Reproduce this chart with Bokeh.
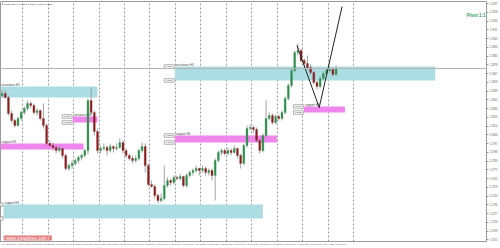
from bokeh.plotting import figure
from bokeh.models import (ColumnDataSource, FixedTicker, Span, Label, Range1d,
                          PrintfTickFormatter)
from bokeh.embed import file_html
from bokeh.resources import INLINE
from bokeh.core.properties import value

# ---------------- data ----------------
symbol_header = "EURUSD,H1  1.1866 1.1875 1.1865 1.1872"

opens = [1.1845,1.1847,1.1843,1.1827,1.1820,1.1815,1.1822,1.1828,1.1832,1.1837,
 1.1835,1.1828,1.1830,1.1822,1.1815,1.1797,1.1795,1.1793,1.1790,1.1792,
 1.1785,1.1772,1.1775,1.1777,1.1780,1.1783,1.1785,1.1790,1.1840,1.1828,
 1.1809,1.1790,1.1792,1.1793,1.1790,1.1794,1.1792,1.1793,1.1798,1.1790,
 1.1785,1.1782,1.1780,1.1782,1.1790,1.1794,1.1775,1.1756,1.1754,1.1745,
 1.1740,1.1742,1.1755,1.1760,1.1758,1.1763,1.1762,1.1764,1.1755,1.1765,
 1.1768,1.1770,1.1772,1.1770,1.1772,1.1768,1.1770,1.1765,1.1780,1.1788,
 1.1790,1.1787,1.1790,1.1788,1.1792,1.1785,1.1777,1.1795,1.1812,1.1813,
 1.1811,1.1800,1.1790,1.1805,1.1822,1.1825,1.1818,1.1824,1.1822,1.1828,
 1.1842,1.1855,1.1870,1.1888,1.1890,1.1880,1.1877,1.1873,1.1868,1.1858,
 1.1854,1.1862,1.1867,1.1870,1.1871,1.1866]
highs = [1.1850,1.1850,1.1845,1.1830,1.1822,1.1824,1.1830,1.1834,1.1840,1.1839,
 1.1837,1.1832,1.1831,1.1837,1.1817,1.1800,1.1798,1.1795,1.1795,1.1793,
 1.1787,1.1777,1.1780,1.1782,1.1785,1.1787,1.1792,1.1842,1.1853,1.1830,
 1.1812,1.1795,1.1797,1.1795,1.1797,1.1795,1.1797,1.1802,1.1800,1.1792,
 1.1787,1.1785,1.1785,1.1792,1.1798,1.1797,1.1777,1.1760,1.1756,1.1747,
 1.1747,1.1775,1.1763,1.1762,1.1765,1.1765,1.1767,1.1765,1.1767,1.1770,
 1.1772,1.1775,1.1773,1.1775,1.1774,1.1772,1.1772,1.1782,1.1790,1.1792,
 1.1792,1.1793,1.1792,1.1795,1.1793,1.1787,1.1797,1.1815,1.1816,1.1815,
 1.1813,1.1802,1.1807,1.1840,1.1828,1.1827,1.1826,1.1826,1.1830,1.1844,
 1.1857,1.1872,1.1890,1.1897,1.1892,1.1882,1.1885,1.1876,1.1870,1.1860,
 1.1864,1.1869,1.1872,1.1874,1.1873,1.1875]
lows = [1.1843,1.1842,1.1825,1.1818,1.1813,1.1814,1.1820,1.1826,1.1830,1.1832,
 1.1826,1.1825,1.1820,1.1812,1.1795,1.1793,1.1790,1.1787,1.1788,1.1782,
 1.1770,1.1770,1.1772,1.1775,1.1777,1.1780,1.1783,1.1786,1.1826,1.1805,
 1.1787,1.1787,1.1790,1.1785,1.1788,1.1788,1.1790,1.1792,1.1787,1.1782,
 1.1780,1.1777,1.1778,1.1780,1.1788,1.1768,1.1754,1.1753,1.1742,1.1737,
 1.1738,1.1740,1.1753,1.1755,1.1756,1.1760,1.1760,1.1753,1.1753,1.1763,
 1.1765,1.1768,1.1765,1.1768,1.1765,1.1765,1.1760,1.1740,1.1778,1.1785,
 1.1785,1.1785,1.1785,1.1787,1.1782,1.1772,1.1775,1.1793,1.1810,1.1808,
 1.1798,1.1787,1.1788,1.1803,1.1820,1.1816,1.1816,1.1820,1.1820,1.1826,
 1.1840,1.1853,1.1868,1.1885,1.1878,1.1875,1.1871,1.1866,1.1856,1.1851,
 1.1852,1.1860,1.1865,1.1868,1.1864,1.1865]
closes = [1.1847,1.1843,1.1827,1.1820,1.1815,1.1822,1.1828,1.1832,1.1837,1.1835,
 1.1828,1.1830,1.1822,1.1815,1.1797,1.1795,1.1793,1.1790,1.1792,1.1785,
 1.1772,1.1775,1.1777,1.1780,1.1783,1.1785,1.1790,1.1840,1.1828,1.1809,
 1.1790,1.1792,1.1793,1.1790,1.1794,1.1792,1.1793,1.1798,1.1790,1.1785,
 1.1782,1.1780,1.1782,1.1790,1.1794,1.1775,1.1756,1.1754,1.1745,1.1740,
 1.1742,1.1755,1.1760,1.1758,1.1763,1.1762,1.1764,1.1755,1.1765,1.1768,
 1.1770,1.1772,1.1770,1.1772,1.1768,1.1770,1.1765,1.1780,1.1788,1.1790,
 1.1787,1.1790,1.1788,1.1792,1.1785,1.1777,1.1795,1.1812,1.1813,1.1811,
 1.1800,1.1790,1.1805,1.1822,1.1825,1.1818,1.1824,1.1822,1.1828,1.1842,
 1.1855,1.1870,1.1888,1.1890,1.1880,1.1877,1.1873,1.1868,1.1858,1.1854,
 1.1862,1.1867,1.1870,1.1871,1.1866,1.1872]
bars = list(range(len(closes)))
bid_price = 1.1872

# x-axis time labels (one every 4 bars)
time_label_bars = list(range(0, 105, 4))
time_labels = ["2 Aug 2017", "2 Aug 04:00", "2 Aug 08:00", "2 Aug 12:00", "2 Aug 16:00",
               "2 Aug 20:00", "3 Aug 00:00", "3 Aug 04:00", "3 Aug 08:00", "3 Aug 12:00",
               "3 Aug 16:00", "3 Aug 20:00", "4 Aug 00:00", "4 Aug 04:00", "4 Aug 08:00",
               "4 Aug 12:00", "4 Aug 16:00", "4 Aug 20:00", "7 Aug 00:00", "7 Aug 04:00",
               "7 Aug 08:00", "7 Aug 12:00", "7 Aug 16:00", "7 Aug 20:00", "8 Aug 00:00",
               "8 Aug 04:00", "8 Aug 08:00"]
# vertical grid separators (bar positions)
grid_bars = [6.5, 14.5, 22.5, 30.5, 38.5, 46.5, 54.5, 62.5, 70.5, 78.5, 86.5, 94.5, 102.5, 110.5]
# price scale ticks
price_ticks = [1.19370, 1.19283, 1.19195, 1.19108, 1.19020, 1.18933, 1.18845, 1.18758,
               1.18670, 1.18583, 1.18495, 1.18408, 1.18320, 1.18233, 1.18145, 1.18058,
               1.17970, 1.17883, 1.17795, 1.17708, 1.17620, 1.17533, 1.17445, 1.17358,
               1.17270, 1.17183, 1.17095, 1.17008]

# analysis zones
zone_labels = ["resistance H1", "resistance H1", "resistance H1", "support H1",
               "support H1", "support H1", "support H1"]
zone_kind = ["cyan", "cyan", "pink", "pink", "pink", "pink", "cyan"]
zone_x0 = [54.3, -0.5, 22.2, -0.5, 54.3, 94.9, 0.45]
zone_x1 = [136.2, 30.0, 30.0, 25.6, 86.4, 107.8, 82.0]
zone_top = [1.1874, 1.1854, 1.1824, 1.1797, 1.1805, 1.1834, 1.1736]
zone_bot = [1.1860, 1.1843, 1.1818, 1.1791, 1.1798, 1.1828, 1.1722]

# projected path (V-shape)
path_x = [92.7, 99.7, 106.9]
path_y = [1.1895, 1.1833, 1.1934]

pivot_text = "Pivot 1:1"
watermark = "|  www.instaforex.com  |"

# ---------------- figure ----------------
FONT = "Liberation Sans"
p = figure(width=500, height=248, output_backend="svg", toolbar_location=None,
           x_range=Range1d(-0.5, 152.3), y_range=Range1d(1.1699, 1.1939),
           y_axis_location="right", min_border_left=0, min_border_top=1,
           min_border_right=12, min_border_bottom=7)
p.background_fill_color = "white"
p.border_fill_color = "white"
p.outline_line_color = "#9a9a9a"

p.ygrid.visible = False
p.xgrid.ticker = FixedTicker(ticks=grid_bars)
p.xgrid.grid_line_color = "#9a9a9a"
p.xgrid.grid_line_dash = "2 2"
p.xgrid.grid_line_width = 1

ya = p.yaxis[0]
ya.ticker = FixedTicker(ticks=price_ticks)
ya.formatter = PrintfTickFormatter(format="%.4f")
ya.major_label_text_font_size = "2.6px"
ya.major_label_text_font = FONT
ya.major_label_text_color = "#555555"
ya.major_label_standoff = 1
ya.major_tick_out = 2
ya.major_tick_in = 0
ya.minor_tick_out = 0
ya.minor_tick_in = 0
ya.axis_line_color = "#9a9a9a"
ya.major_tick_line_color = "#9a9a9a"

xa = p.xaxis[0]
xa.ticker = FixedTicker(ticks=[b + 2 for b in time_label_bars])
xa.major_label_overrides = {b + 2: t for b, t in zip(time_label_bars, time_labels)}
xa.major_label_text_font_size = "2.4px"
xa.major_label_text_font = FONT
xa.major_label_text_color = "#555555"
xa.major_label_standoff = 1
xa.major_tick_out = 0
xa.major_tick_in = 0
xa.minor_tick_out = 0
xa.minor_tick_in = 0
xa.axis_line_color = "#9a9a9a"

# zones
zone_colors = {"cyan": "#acdde3", "pink": "#ee86ee"}
zsrc = ColumnDataSource(dict(x0=zone_x0, x1=zone_x1, top=zone_top, bot=zone_bot,
                             col=[zone_colors[k] for k in zone_kind], lab=zone_labels))
p.quad(left="x0", right="x1", top="top", bottom="bot", fill_color="col",
       line_color=None, source=zsrc)
p.text(x="x0", y="top", text="lab", source=zsrc, text_font=value(FONT),
       text_font_size="3px", text_color="#444444", text_baseline="bottom",
       x_offset=1, y_offset=-0.5)

# price boxes at zone left edges (text only where the box is fully visible)
bx, by, bx_t, by_t, btxt = [], [], [], [], []
for x0, t, b in zip(zone_x0, zone_top, zone_bot):
    if x0 > 0:
        for v in (t, b):
            bx.append(x0 - 1.75)
            by.append(v)
            if x0 > 4:
                bx_t.append(x0 - 1.75)
                by_t.append(v)
                btxt.append("%.4f" % v)
p.rect(x=bx, y=by, width=3.1, height=0.00035, fill_color="white",
       line_color="#7a7a7a", line_width=0.6)
p.text(x=bx_t, y=by_t, text=btxt, text_font=value(FONT), text_font_size="2.2px",
       text_color="#333333", text_align="center", text_baseline="middle")

# candles
bull = "#2f8f4e"
bear = "#8b1e1e"
cols = [bull if c >= o else bear for o, c in zip(opens, closes)]
csrc = ColumnDataSource(dict(x=bars, o=opens, h=highs, l=lows, c=closes, col=cols,
                             top=[max(o, c) for o, c in zip(opens, closes)],
                             bot=[min(o, c) for o, c in zip(opens, closes)]))
p.segment(x0="x", y0="h", x1="x", y1="l", source=csrc, line_color="#8a8a8a", line_width=0.8)
p.vbar(x="x", top="top", bottom="bot", width=0.6, source=csrc, fill_color="col",
       line_color="col", line_width=0.3)

# bid line
p.add_layout(Span(location=bid_price, dimension="width", line_color="#b5b5b5", line_width=1))

# projected path
p.line(path_x, path_y, line_color="#222222", line_width=1)

# texts
p.add_layout(Label(x=152.3, y=1.1925, text=pivot_text, text_align="right", x_offset=-1,
                   text_font=FONT, text_font_size="4.5px", text_color="#2e9e55",
                   text_font_style="bold", text_baseline="middle"))
p.add_layout(Label(x=-0.3, y=1.1939, text="\u25bc " + symbol_header, text_baseline="top",
                   y_offset=-1, text_font=FONT, text_font_size="2.5px", text_color="#333333"))
p.add_layout(Label(x=3, y=1, x_units="screen", y_units="screen", text=watermark,
                   text_font=FONT, text_font_size="4.6px", text_color="white",
                   background_fill_color="#e06a6a", background_fill_alpha=0.9,
                   text_baseline="bottom"))
p.add_layout(Label(x=152.3, y=bid_price, text="%.4f" % bid_price, x_offset=1,
                   text_font=FONT, text_font_size="2.6px", text_color="white",
                   background_fill_color="#222222", text_baseline="middle"))

open("out.html", "w").write(file_html(p, INLINE))
